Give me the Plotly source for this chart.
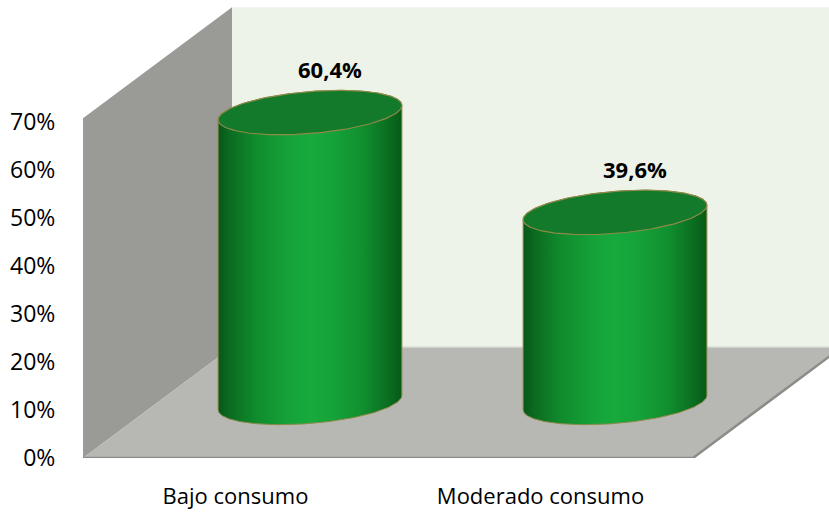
import numpy as np
import plotly.graph_objects as go

# ---- data ----
categories = ["Bajo consumo", "Moderado consumo"]
values = [60.4, 39.6]
value_labels = ["60,4%", "39,6%"]
tick_values = [0, 10, 20, 30, 40, 50, 60, 70]
tick_labels = ["0%", "10%", "20%", "30%", "40%", "50%", "60%", "70%"]

# ---- layout geometry ----
WIDTH, HEIGHT = 829, 513
MARGIN_L, MARGIN_B = 83, 55
CAT_PX = 305.0          # pixels per category along the front edge
PCT_PX = 4.8            # pixels per percentage point
DEPTH_PX = (149.0, 111.0)  # oblique offset of the back plane (right, up)
WALL_TOP = 70.8         # height of the walls in axis units

DX = DEPTH_PX[0] / CAT_PX
DY = DEPTH_PX[1] / PCT_PX

X_RANGE = [-0.5, -0.5 + (WIDTH - MARGIN_L) / CAT_PX]
Y_RANGE = [0, (HEIGHT - MARGIN_B) / PCT_PX]

# cylinder shape (in category / depth units)
RX = 0.285   # radius along the category axis
RD = 0.20    # radius along the depth axis
BAR_DEPTH = 0.5

FONT = "Open Sans, Lato, Arial, sans-serif"


def proj(x, v, d):
    """Oblique projection of (category, value, depth) onto the 2D axes."""
    return x + d * DX, v + d * DY


def polygon(points, color, line_color=None, line_width=0):
    xs, ys = zip(*[proj(*p) for p in points])
    xs = list(xs) + [xs[0]]
    ys = list(ys) + [ys[0]]
    return go.Scatter(
        x=xs, y=ys, mode="lines", fill="toself", fillcolor=color,
        line=dict(color=line_color or color, width=line_width),
        hoverinfo="skip", showlegend=False,
    )


def ellipse(cx, v, thetas):
    xs = cx + RX * np.cos(thetas) + (BAR_DEPTH + RD * np.sin(thetas)) * DX
    ys = v + (BAR_DEPTH + RD * np.sin(thetas)) * DY
    return xs, ys


fig = go.Figure()

# back wall, side wall and floor
fig.add_trace(polygon([(-0.5, 0, 1), (1.5, 0, 1), (1.5, WALL_TOP, 1), (-0.5, WALL_TOP, 1)],
                      "#EEF3EA"))
fig.add_trace(polygon([(-0.5, 0, 0), (-0.5, 0, 1), (-0.5, WALL_TOP, 1), (-0.5, WALL_TOP, 0)],
                      "#9A9B97"))
fig.add_trace(polygon([(-0.5, 0, 0), (1.5, 0, 0), (1.5, 0, 1), (-0.5, 0, 1)],
                      "#B7B8B3"))
# light seam where the floor meets the back wall
seam = [proj(-0.5, 0, 1), proj(1.5, 0, 1)]
fig.add_trace(go.Scatter(
    x=[p[0] for p in seam], y=[p[1] for p in seam], mode="lines",
    line=dict(color="#D9DCD5", width=1.5), hoverinfo="skip", showlegend=False,
))
# darker rim along the front and right edges of the floor
rim = [proj(-0.5, 0, 0), proj(1.5, 0, 0), proj(1.5, 0, 1)]
fig.add_trace(go.Scatter(
    x=[p[0] for p in rim], y=[p[1] for p in rim], mode="lines",
    line=dict(color="#8C8D89", width=2.5), hoverinfo="skip", showlegend=False,
))

# cylinders
theta_r = np.arctan2(RD * DX, RX)          # right silhouette angle
front = np.linspace(theta_r + np.pi, theta_r + 2 * np.pi, 120)
back = np.linspace(theta_r, theta_r + np.pi, 120)
full = np.linspace(0, 2 * np.pi, 240)

body_scale = [
    [0.0, "#07561A"], [0.06, "#0B6A20"], [0.2, "#108A2D"], [0.38, "#15A239"],
    [0.5, "#17AA3C"], [0.62, "#15A33A"], [0.78, "#11902F"], [0.9, "#0C7424"],
    [1.0, "#075A17"],
]
OUTLINE = "#8E8A48"

for i, val in enumerate(values):
    bx, by = ellipse(i, 0, front)
    tx, ty = ellipse(i, val, back)
    xs = np.concatenate([bx, tx, bx[:1]])
    ys = np.concatenate([by, ty, by[:1]])
    fig.add_trace(go.Scatter(
        x=xs, y=ys, mode="lines", fill="toself",
        fillgradient=dict(type="horizontal", colorscale=body_scale),
        line=dict(color=OUTLINE, width=1),
        hoverinfo="skip", showlegend=False,
    ))
    ex, ey = ellipse(i, val, full)
    fig.add_trace(go.Scatter(
        x=ex, y=ey, mode="lines", fill="toself", fillcolor="#137A2B",
        line=dict(color=OUTLINE, width=1.2),
        hoverinfo="skip", showlegend=False,
    ))
    lx, ly = proj(i, val + RD * DY, BAR_DEPTH)
    fig.add_annotation(
        x=lx, y=ly, text=value_labels[i], showarrow=False,
        xshift=20, yshift=21, yanchor="middle",
        font=dict(family=FONT, size=22, color="black", weight="bold"),
    )

fig.update_layout(
    width=WIDTH, height=HEIGHT,
    margin=dict(l=MARGIN_L, r=0, t=0, b=MARGIN_B, autoexpand=False),
    paper_bgcolor="white", plot_bgcolor="white",
    xaxis=dict(
        range=X_RANGE, showgrid=False, zeroline=False, showline=False,
        tickvals=list(range(len(categories))), ticktext=categories,
        ticks="outside", ticklen=19, tickcolor="rgba(0,0,0,0)",
        tickfont=dict(family=FONT, size=22, color="black"),
        fixedrange=True, automargin=False,
    ),
    yaxis=dict(
        range=Y_RANGE, showgrid=False, zeroline=False, showline=False,
        tickvals=tick_values, ticktext=tick_labels,
        ticks="outside", ticklen=22, tickcolor="rgba(0,0,0,0)",
        tickfont=dict(family=FONT, size=23, color="black"),
        fixedrange=True, automargin=False,
    ),
)

fig.write_html("out.html")
